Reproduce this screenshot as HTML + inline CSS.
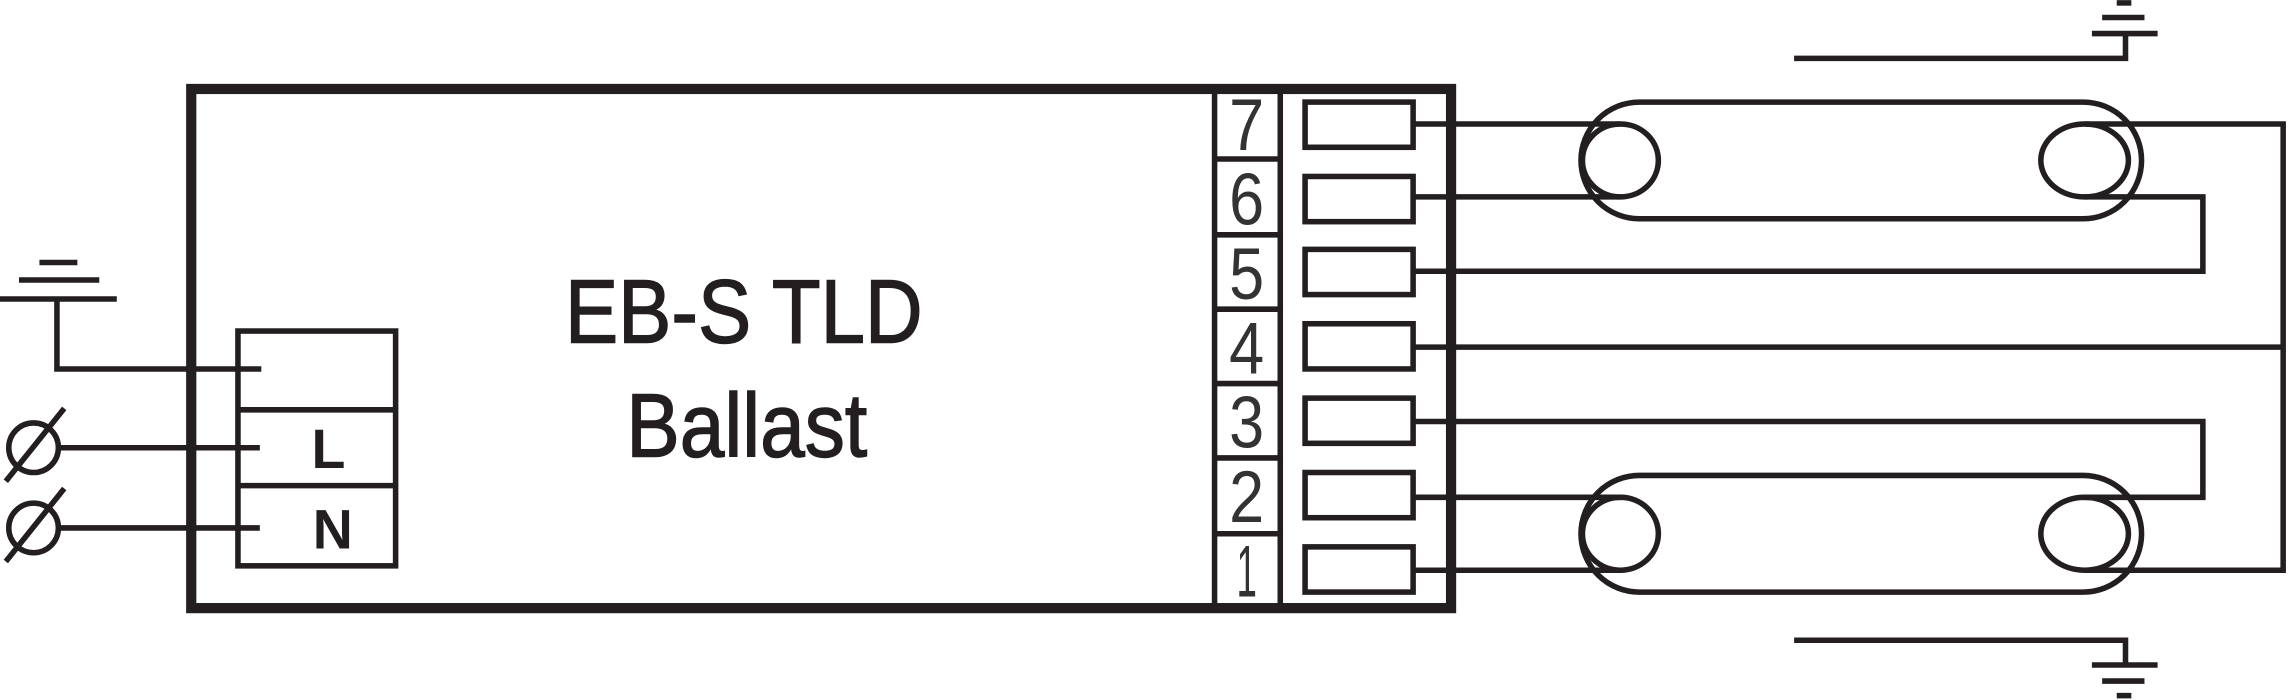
<!DOCTYPE html>
<html><head><meta charset="utf-8"><style>html,body{margin:0;padding:0;background:#fff}svg{display:block}</style></head>
<body>
<svg width="2289" height="700" viewBox="0 0 1568 480" preserveAspectRatio="none" xmlns="http://www.w3.org/2000/svg">
<g fill="none" stroke="#231f20" stroke-width="3.8">
<line x1="27" y1="180" x2="53" y2="180"/>
<line x1="13" y1="192" x2="68" y2="192"/>
<line x1="0" y1="205" x2="80" y2="205"/>
<polyline points="39,205 39,253 179,253"/>
<circle cx="23" cy="307" r="17"/>
<line x1="4" y1="330" x2="44" y2="280"/>
<line x1="40" y1="307" x2="178" y2="307"/>
<circle cx="23" cy="362" r="17"/>
<line x1="4" y1="385" x2="44" y2="335"/>
<line x1="40" y1="362" x2="178" y2="362"/>
<rect x="163" y="227" width="108" height="161"/>
<line x1="163" y1="281" x2="271" y2="281"/>
<line x1="163" y1="333" x2="271" y2="333"/>
<rect x="131" y="61" width="863" height="356" stroke-width="7"/>
<line x1="832" y1="61" x2="832" y2="417"/>
<line x1="877" y1="61" x2="877" y2="417"/>
<line x1="832" y1="109" x2="877" y2="109"/>
<line x1="832" y1="161" x2="877" y2="161"/>
<line x1="832" y1="212" x2="877" y2="212"/>
<line x1="832" y1="263" x2="877" y2="263"/>
<line x1="832" y1="314" x2="877" y2="314"/>
<line x1="832" y1="366" x2="877" y2="366"/>
<rect x="894" y="70" width="74" height="31"/>
<rect x="894" y="121" width="74" height="31"/>
<rect x="894" y="171" width="74" height="31"/>
<rect x="894" y="222" width="74" height="31"/>
<rect x="894" y="273" width="74" height="31"/>
<rect x="894" y="324" width="74" height="31"/>
<rect x="894" y="375" width="74" height="31"/>
<rect x="1083" y="70" width="384" height="80" rx="40"/>
<ellipse cx="1110" cy="110" rx="26" ry="25"/>
<ellipse cx="1428" cy="110" rx="30" ry="25"/>
<rect x="1083" y="326" width="384" height="80" rx="40"/>
<ellipse cx="1110" cy="366" rx="26" ry="25"/>
<ellipse cx="1428" cy="366" rx="30" ry="25"/>
<line x1="968" y1="85" x2="1110" y2="85"/>
<line x1="968" y1="135" x2="1110" y2="135"/>
<polyline points="1428,85 1564,85 1564,391 1428,391"/>
<polyline points="1428,135 1509,135 1509,186 968,186"/>
<line x1="968" y1="238" x2="1564" y2="238"/>
<polyline points="968,289 1509,289 1509,341 1428,341"/>
<line x1="968" y1="341" x2="1110" y2="341"/>
<line x1="968" y1="391" x2="1110" y2="391"/>
<polyline points="1229,40 1456,40 1456,23"/>
<line x1="1433" y1="23" x2="1478" y2="23"/>
<line x1="1440" y1="12" x2="1469" y2="12"/>
<line x1="1450" y1="2" x2="1460" y2="2"/>
<polyline points="1229,439 1456,439 1456,456"/>
<line x1="1433" y1="456" x2="1478" y2="456"/>
<line x1="1440" y1="467" x2="1469" y2="467"/>
<line x1="1450" y1="477" x2="1460" y2="477"/>
</g>
<g fill="#231f20" font-family="Liberation Sans, sans-serif">
<text x="225" y="321" font-size="38" font-weight="bold" text-anchor="middle">L</text>
<text x="228" y="376" font-size="38" font-weight="bold" text-anchor="middle">N</text>
<g stroke="#231f20" stroke-width="1">
<text x="387" y="235" font-size="62" textLength="245" lengthAdjust="spacingAndGlyphs">EB-S TLD</text>
<text x="429" y="313" font-size="62" textLength="165" lengthAdjust="spacingAndGlyphs">Ballast</text>
</g>
<g font-size="50" text-anchor="middle" fill="#333">
<text x="854" y="103" textLength="24" lengthAdjust="spacingAndGlyphs">7</text>
<text x="854" y="154" textLength="24" lengthAdjust="spacingAndGlyphs">6</text>
<text x="854" y="205" textLength="24" lengthAdjust="spacingAndGlyphs">5</text>
<text x="854" y="256" textLength="24" lengthAdjust="spacingAndGlyphs">4</text>
<text x="854" y="307" textLength="24" lengthAdjust="spacingAndGlyphs">3</text>
<text x="854" y="358" textLength="24" lengthAdjust="spacingAndGlyphs">2</text>
<text x="854" y="409" textLength="14" lengthAdjust="spacingAndGlyphs">1</text>
</g>
</g>
</svg>
</body></html>
